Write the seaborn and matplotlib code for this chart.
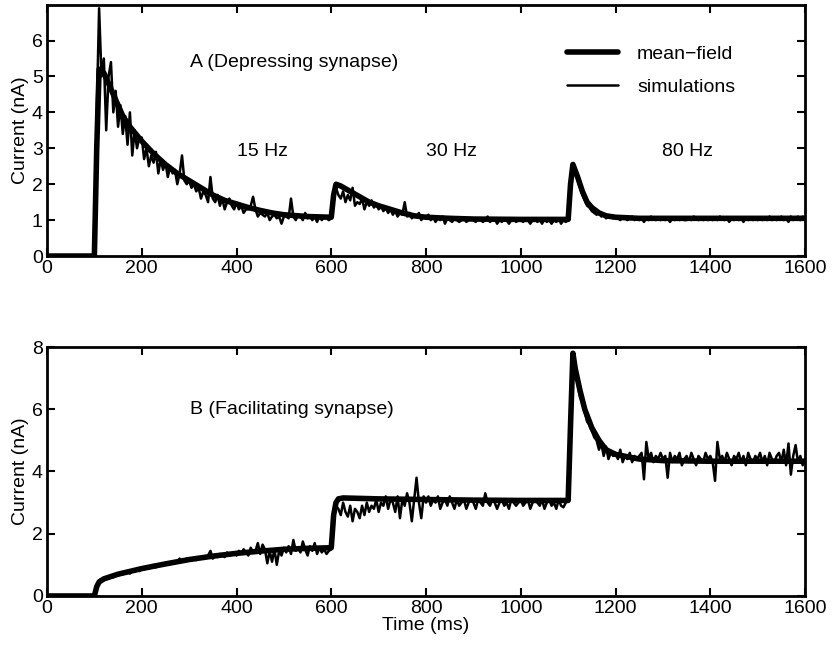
import numpy as np
import pandas as pd
import seaborn as sns
import matplotlib.pyplot as plt

# time axis for the simulation traces (ms, every 5 ms)
sim_time = np.arange(0, 1601, 5)

# A: depressing synapse
dep_mf_time = [0, 100, 105, 110, 120, 130, 140, 150, 160, 175, 200, 225, 250, 275, 300,
               325, 350, 375, 400, 425, 450, 475, 500, 550, 600, 605, 610, 620, 640, 660,
               680, 700, 725, 750, 775, 800, 850, 900, 1000, 1100, 1105, 1110, 1120, 1130,
               1140, 1150, 1165, 1180, 1200, 1250, 1600]
dep_mf = [0, 0, 3.0, 5.2, 5.1, 4.8, 4.5, 4.2, 3.9, 3.6, 3.2, 2.85, 2.55, 2.3, 2.1,
          1.9, 1.7, 1.55, 1.45, 1.35, 1.27, 1.2, 1.15, 1.1, 1.08, 1.7, 2.0, 1.95, 1.8, 1.65,
          1.5, 1.4, 1.3, 1.2, 1.12, 1.08, 1.05, 1.03, 1.02, 1.02, 2.0, 2.55, 2.2, 1.8,
          1.5, 1.35, 1.2, 1.12, 1.08, 1.05, 1.05]
dep_sim = [
    0, 0, 0, 0, 0, 0, 0, 0, 0, 0, 0, 0, 0, 0, 0, 0, 0, 0, 0, 0,
    0, 4.0, 6.9, 5.0, 5.5, 3.5, 5.0, 5.4, 4.0, 4.6, 3.6, 4.2, 3.4, 3.9, 3.1, 4.0, 2.8, 3.5, 3.0, 3.3,
    3.3, 2.7, 3.0, 2.5, 2.8, 2.6, 2.9, 2.3, 2.7, 2.4, 2.6, 2.2, 2.5, 2.3, 2.4, 2.0, 2.3, 2.8, 2.1, 2.0,
    2.1, 1.9, 2.0, 1.8, 1.9, 1.6, 1.8, 1.7, 1.5, 2.2, 1.6, 1.5, 1.7, 1.4, 1.6, 1.3, 1.5, 1.6, 1.4, 1.3,
    1.5, 1.3, 1.4, 1.2, 1.3, 1.3, 1.4, 1.65, 1.3, 1.1, 1.2, 1.15, 1.1, 1.2, 1.0, 1.1, 1.15, 1.05, 1.1, 0.9,
    1.1, 1.1, 1.05, 1.6, 1.1, 1.0, 1.15, 1.1, 1.0, 1.2, 1.05, 1.1, 1.0, 1.1, 0.95, 1.1, 1.0, 1.1, 1.05, 1.0,
    1.05, 1.8, 1.9, 1.7, 1.6, 1.8, 1.5, 1.7, 1.55, 1.9, 1.4, 1.5, 1.45, 1.6, 1.3, 1.5, 1.4, 1.55, 1.35, 1.45,
    1.3, 1.4, 1.25, 1.35, 1.2, 1.3, 1.15, 1.25, 1.1, 1.2, 1.15, 1.5, 1.1, 1.2, 1.05, 1.15, 1.1, 1.2, 1.0, 1.1,
    1.1, 1.15, 1.0, 1.1, 0.95, 1.05, 1.0, 1.1, 0.9, 1.05, 1.0, 0.95, 1.05, 1.0, 0.95, 1.0, 1.05, 0.95, 1.0, 1.05,
    1.0, 0.95, 1.05, 1.0, 0.95, 1.0, 1.1, 0.95, 1.0, 1.05, 0.9, 1.0, 0.95, 1.05, 1.0, 0.9, 1.0, 1.05, 0.95, 1.0,
    1.0, 0.95, 1.05, 1.0, 0.9, 1.0, 1.05, 0.95, 1.0, 0.9, 1.05, 0.95, 1.0, 0.9, 1.0, 0.95, 1.05, 0.9, 1.0, 0.95,
    1.0, 2.0, 2.55, 2.4, 2.1, 1.9, 1.7, 1.55, 1.4, 1.35, 1.25, 1.2, 1.15, 1.2, 1.1, 1.15, 1.05, 1.1, 1.1, 1.05,
    1.1, 1.05, 1.0, 1.1, 1.05, 1.0, 1.05, 1.1, 1.0, 1.05, 1.0, 1.05, 0.95, 1.05, 1.0, 1.1, 1.05, 1.0, 1.05, 1.0,
    1.05, 1.0, 1.05, 0.95, 1.05, 1.0, 1.05, 1.0, 1.05, 1.0, 1.0, 1.05, 1.0, 1.1, 1.05, 1.0, 1.05, 1.0, 1.05, 1.0,
    1.05, 1.0, 1.05, 1.0, 1.1, 1.05, 1.0, 1.05, 0.95, 1.05, 1.0, 1.05, 1.0, 1.05, 0.95, 1.05, 1.0, 1.05, 1.0, 1.05,
    1.0, 1.05, 1.0, 1.05, 1.0, 1.1, 1.0, 1.05, 1.0, 1.05, 1.1, 1.0, 1.05, 0.95, 1.1, 1.0, 1.05, 1.1, 1.0, 1.1, 1.05,
]

# B: facilitating synapse
fac_mf_time = [0, 100, 105, 110, 120, 150, 200, 250, 300, 350, 400, 450, 500, 550, 600,
               605, 610, 615, 625, 700, 800, 900, 1000, 1100, 1105, 1110, 1115, 1125, 1135,
               1150, 1165, 1180, 1200, 1250, 1300, 1400, 1600]
fac_mf = [0, 0, 0.3, 0.45, 0.55, 0.7, 0.88, 1.03, 1.17, 1.28, 1.37, 1.44, 1.5, 1.53, 1.55,
          2.6, 3.0, 3.12, 3.15, 3.12, 3.1, 3.08, 3.07, 3.07, 5.5, 7.8, 7.3, 6.6, 6.0,
          5.4, 5.0, 4.7, 4.55, 4.4, 4.35, 4.33, 4.33]
fac_sim = [
    0, 0, 0, 0, 0, 0, 0, 0, 0, 0, 0, 0, 0, 0, 0, 0, 0, 0, 0, 0,
    0, 0.35, 0.5, 0.55, 0.5, 0.6, 0.55, 0.65, 0.6, 0.7, 0.65, 0.72, 0.7, 0.75, 0.8, 0.72, 0.82, 0.78, 0.85, 0.8,
    0.9, 0.85, 0.95, 0.88, 0.95, 1.0, 0.92, 1.0, 0.98, 1.05, 1.0, 1.08, 1.02, 1.1, 1.05, 1.12, 1.2, 1.1, 1.15, 1.2,
    1.15, 1.2, 1.22, 1.15, 1.25, 1.2, 1.28, 1.22, 1.3, 1.45, 1.2, 1.3, 1.25, 1.35, 1.3, 1.25, 1.4, 1.3, 1.35, 1.4,
    1.3, 1.45, 1.35, 1.5, 1.4, 1.3, 1.55, 1.4, 1.45, 1.7, 1.35, 1.65, 1.5, 1.05, 1.45, 1.1, 1.5, 1.0, 1.45, 1.3,
    1.55, 1.4, 1.6, 1.35, 1.8, 1.45, 1.55, 1.4, 1.75, 1.5, 1.3, 1.6, 1.45, 1.7, 1.35, 1.55, 1.4, 1.5, 1.35, 1.45,
    1.5, 2.6, 2.9, 2.8, 2.6, 3.0, 2.7, 2.55, 2.9, 2.4, 2.8, 2.7, 2.5, 2.9, 2.6, 3.0, 2.7, 2.9, 2.8, 3.1,
    2.7, 3.0, 2.9, 3.2, 2.8, 3.1, 3.0, 2.7, 3.2, 2.5, 3.1, 2.9, 3.3, 3.0, 2.4, 3.1, 3.8, 3.0, 2.5, 3.2,
    3.0, 3.2, 2.9, 3.1, 3.0, 3.2, 2.8, 3.0, 3.1, 2.9, 3.2, 3.0, 2.8, 3.1, 2.9, 3.0, 3.1, 2.8, 3.0, 3.1,
    3.0, 2.8, 3.1, 3.0, 2.9, 3.3, 3.0, 2.9, 3.1, 3.0, 2.8, 3.0, 3.1, 2.9, 3.0, 2.8, 3.1, 3.0, 2.9, 3.0,
    3.1, 2.9, 3.0, 3.1, 2.8, 3.0, 3.05, 3.0, 2.9, 3.1, 2.8, 3.0, 3.1, 2.9, 3.0, 2.8, 3.1, 2.9, 2.85, 3.0,
    3.1, 5.0, 7.7, 7.2, 6.8, 6.4, 6.2, 5.9, 5.6, 5.5, 5.3, 5.1, 5.0, 4.7, 4.9, 4.5, 4.8, 4.4, 4.6, 4.5,
    4.6, 4.4, 4.7, 4.3, 4.5, 4.4, 4.6, 4.3, 4.5, 4.4, 4.5, 4.6, 3.75, 4.95, 4.4, 4.6, 4.3, 4.5, 4.4, 4.6,
    4.4, 4.5, 3.8, 4.6, 4.3, 4.5, 4.4, 4.6, 4.2, 4.4, 4.5, 4.3, 4.6, 4.4, 4.2, 4.5, 4.4, 4.3, 4.6, 4.4,
    4.5, 4.3, 3.7, 4.95, 4.4, 4.5, 4.3, 4.6, 4.4, 4.2, 4.5, 4.4, 4.6, 4.3, 4.5, 4.2, 4.6, 4.4, 4.3, 4.5,
    4.4, 4.6, 4.3, 4.5, 4.2, 4.6, 4.4, 4.3, 4.5, 4.6, 4.3, 4.7, 4.2, 4.9, 3.9, 4.5, 4.85, 4.3, 4.5, 4.2, 4.4,
]

x_ticks = [0, 200, 400, 600, 800, 1000, 1200, 1400, 1600]

sns.set_style("ticks", {"axes.edgecolor": "black", "text.color": "black",
                        "axes.labelcolor": "black", "xtick.color": "black",
                        "ytick.color": "black"})
plt.rcParams["font.family"] = ["Liberation Sans", "DejaVu Sans"]
plt.rcParams["font.size"] = 14

fig = plt.figure(figsize=(8.36, 6.49), dpi=100)
ax_a = fig.add_axes([0.0562, 0.6055, 0.9068, 0.3868])
ax_b = fig.add_axes([0.0562, 0.0817, 0.9068, 0.3836])

panels = [
    (ax_a, dep_mf_time, dep_mf, dep_sim, (0, 6.99), range(0, 7)),
    (ax_b, fac_mf_time, fac_mf, fac_sim, (0, 8), range(0, 9, 2)),
]
for ax, mf_t, mf_y, sim_y, ylim, yticks in panels:
    sns.lineplot(x=sim_time, y=sim_y, color="black", linewidth=1.8,
                 sort=False, estimator=None, label="simulations", ax=ax)
    sns.lineplot(x=mf_t, y=mf_y, color="black", linewidth=4.0,
                 sort=False, estimator=None, label="mean\u2212field", ax=ax)
    ax.set_xlim(0, 1600)
    ax.set_ylim(*ylim)
    ax.set_xticks(x_ticks)
    ax.set_yticks(list(yticks))
    ax.set_ylabel("Current (nA)", fontsize=14, labelpad=2, color="black")
    ax.tick_params(direction="in", top=True, right=True, length=6, width=1.5,
                   labelsize=14, pad=3, colors="black")
    for s in ax.spines.values():
        s.set_linewidth(2)
        s.set_color("black")
        s.set_visible(True)

ax_b.set_xlabel("Time (ms)", fontsize=14, labelpad=0, color="black")

handles, labels = ax_a.get_legend_handles_labels()
leg = ax_a.legend(handles[::-1], labels[::-1], loc="upper left",
                  bbox_to_anchor=(0.686, 0.84), frameon=False, fontsize=14,
                  handlelength=2.6, handletextpad=1.0, labelspacing=0.8,
                  borderaxespad=0, borderpad=0)
for t in leg.get_texts():
    t.set_color("black")
ax_b.get_legend().remove()

ax_a.text(302, 5.38, "A (Depressing synapse)", va="center", ha="left", fontsize=14, color="black")
ax_a.text(454, 2.9, "15 Hz", va="center", ha="center", fontsize=14, color="black")
ax_a.text(854, 2.9, "30 Hz", va="center", ha="center", fontsize=14, color="black")
ax_a.text(1352, 2.9, "80 Hz", va="center", ha="center", fontsize=14, color="black")
ax_b.text(302, 5.98, "B (Facilitating synapse)", va="center", ha="left", fontsize=14, color="black")

fig.savefig("out.png", dpi=100)
